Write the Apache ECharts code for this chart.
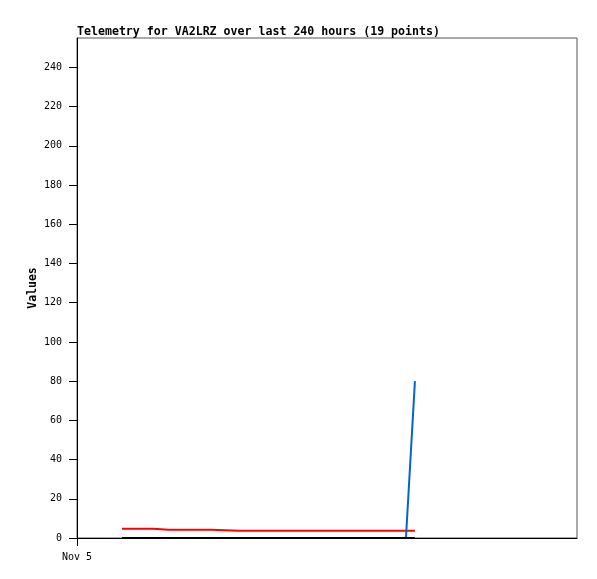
<!DOCTYPE html>
<html>
<head>
<meta charset="utf-8">
<script src="https://cdn.jsdelivr.net/npm/echarts@6/dist/echarts.min.js"></script>
<style>
  html, body { margin: 0; padding: 0; background: #fff; }
  #chart { width: 597px; height: 579px; }
</style>
</head>
<body>
<div id="chart"></div>
<script>
// hours since Nov 5 00:00
const hours = [21.6, 28, 36.5, 36.9, 44, 51, 57, 64.3, 64.7, 78, 91, 104, 117, 130, 143, 150, 155, 157.9, 162.2]
const redValues = [4.7, 4.7, 4.7, 4.2, 4.2, 4.2, 4.2, 4.2, 3.7, 3.7, 3.7, 3.7, 3.7, 3.7, 3.7, 3.7, 3.7, 3.7, 3.7]
const blackValues = [0, 0, 0, 0, 0, 0, 0, 0, 0, 0, 0, 0, 0, 0, 0, 0, 0, 0, 0]
const blueValues = [0, 0, 0, 0, 0, 0, 0, 0, 0, 0, 0, 0, 0, 0, 0, 0, 0, 0, 80]
const yTicks = [0, 20, 40, 60, 80, 100, 120, 140, 160, 180, 200, 220, 240]
const xTicks = [0]
const xTickLabels = ['Nov 5']

const mono = '"DejaVu Sans Mono", "Liberation Mono", monospace'

function pairs(values) {
  return hours.map((h, i) => [h, values[i]])
}

const chart = echarts.init(document.getElementById('chart'))

chart.setOption({
  animation: false,
  title: {
    text: 'Telemetry for VA2LRZ over last 240 hours (19 points)',
    left: 77,
    top: 26,
    padding: 0,
    textStyle: { fontFamily: mono, fontSize: 11.6, fontWeight: 'bold', color: '#000' }
  },
  grid: {
    left: 77,
    right: 20,
    top: 38,
    bottom: 41,
    show: true,
    borderColor: '#555',
    borderWidth: 1
  },
  xAxis: {
    type: 'value',
    min: 0,
    max: 240,
    axisLine: { lineStyle: { color: '#000', width: 1 } },
    axisTick: { customValues: xTicks, length: 8, lineStyle: { color: '#000' } },
    axisLabel: {
      customValues: xTicks,
      formatter: v => xTickLabels[xTicks.indexOf(v)] || '',
      fontFamily: mono,
      fontSize: 10,
      color: '#000',
      margin: 14
    },
    splitLine: { show: false }
  },
  yAxis: {
    type: 'value',
    min: 0,
    max: 255,
    name: 'Values',
    nameLocation: 'middle',
    nameGap: 38,
    nameMoveOverlap: false,
    nameTextStyle: { fontFamily: mono, fontSize: 11.5, fontWeight: 'bold', color: '#000' },
    axisLine: { show: true, lineStyle: { color: '#000', width: 1 } },
    axisTick: { show: true, customValues: yTicks, length: 8, lineStyle: { color: '#000' } },
    axisLabel: {
      customValues: yTicks,
      fontFamily: mono,
      fontSize: 10,
      color: '#000',
      margin: 15
    },
    splitLine: { show: false }
  },
  series: [
    {
      name: 'red',
      type: 'line',
      data: pairs(redValues),
      showSymbol: false,
      lineStyle: { color: '#ff0000', width: 2 }
    },
    {
      name: 'blue',
      type: 'line',
      data: pairs(blueValues),
      showSymbol: false,
      lineStyle: { color: '#0066cc', width: 2 }
    },
    {
      name: 'black',
      type: 'line',
      data: pairs(blackValues),
      showSymbol: false,
      lineStyle: { color: '#000', width: 2 }
    }
  ]
})
</script>
</body>
</html>
